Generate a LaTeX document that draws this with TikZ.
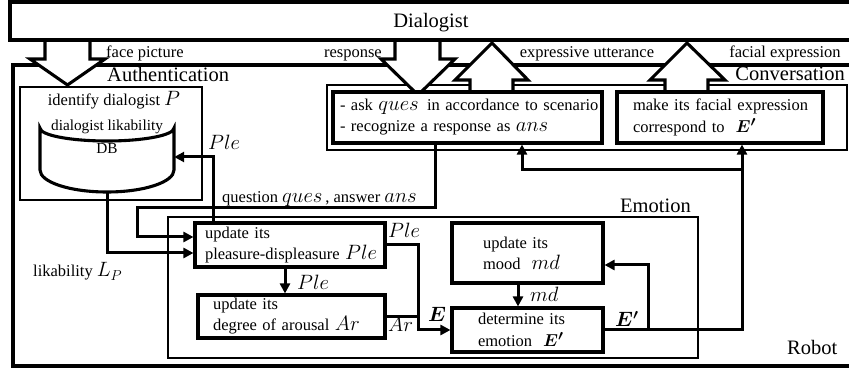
\documentclass[tikz,border=0pt]{standalone}
\usepackage{fontspec}
\setmainfont{Liberation Serif}
\usepackage{bm}
\usetikzlibrary{arrows.meta}
\newcommand\mth[1]{{\fontsize{21}{21}\selectfont$#1$}}
\newcommand\mthb[1]{{\fontsize{19}{19}\selectfont$#1$}}
\begin{document}
\begin{tikzpicture}[x=1pt,y=-1pt,
  thickframe/.style={draw,line width=3.1pt},
  thinframe/.style={draw,line width=1.3pt},
  box/.style={draw,line width=3.1pt,align=left,inner ysep=0pt,fill=white,
    font=\fontsize{16.5}{21}\selectfont},
  conn/.style={line width=3pt,-{Triangle[length=10pt,width=10pt]}},
  plain/.style={line width=3pt},
  lbl/.style={font=\fontsize{16.5}{20}\selectfont,inner sep=0pt},
  big/.style={font=\fontsize{20.5}{24}\selectfont,inner sep=0pt},
  hollow/.style={line width=3.1pt,fill=white,line join=miter}]
\useasboundingbox (0,0) rectangle (849,371);

% robot frame
\draw[thickframe] (13,65) rectangle (856,366);
% thin frames
\draw[thinframe] (20,87) rectangle (202,200);
\draw[thinframe] (327,85) rectangle (847,150);
\draw[thinframe] (168,217) rectangle (698,358);

% hollow arrows
\filldraw[hollow] (45,39) -- (45,59) -- (30,59) -- (67.5,85) -- (105,59) -- (90,59) -- (90,39);
\filldraw[hollow] (395,39) -- (395,59) -- (381,59) -- (418,95) -- (455,59) -- (440,59) -- (440,39);
\filldraw[hollow] (470,92) -- (470,80) -- (455,80) -- (492,43) -- (528,80) -- (513,80) -- (513,92);
\filldraw[hollow] (665,92) -- (665,80) -- (650,80) -- (687,43) -- (725,80) -- (708,80) -- (708,92);

% dialogist frame
\node[big,anchor=base] (dlg) at (431,28) {Dialogist};
\draw[thickframe] (10,2) rectangle (856,40);

% top labels
\node[lbl,anchor=base west] (lfp) at (106,58) {face picture};
\node[lbl,anchor=base east] (lrs) at (382,58) {response};
\node[lbl,anchor=base] (leu) at (587,58) {expressive utterance};
\node[lbl,anchor=base] (lfe) at (785,58) {facial expression};

% group labels
\node[big,anchor=base west] (lauth) at (107,82) {Authentication};
\node[big,anchor=base east] (lconv) at (845,81) {Conversation};
\node[big,anchor=base west] (lemo) at (620,213) {Emotion};
\node[big,anchor=base west] (lrob) at (787,355) {Robot};

% authentication
\node[lbl,anchor=base] (idp) at (114,106) {identify dialogist \mth{P}};
\node[minimum width=134pt,minimum height=77pt,inner sep=0pt] (db) at (107,153.5) {};
\filldraw[line width=3.1pt,fill=white] (174,128)
  arc[start angle=0,end angle=180,x radius=67,y radius=13] -- (40,170)
  arc[start angle=180,end angle=0,x radius=67,y radius=22] -- cycle;
\node[inner sep=0pt,align=center,font=\fontsize{15.3}{23}\selectfont] (dbt) at (107,136.5) {dialogist likability\\DB};

% conversation boxes
\node[box,text width=255pt,inner xsep=7pt,minimum height=51pt] (qa) at (467.5,117.5)
  {\mbox{- ask \mth{ques}\, in accordance to scenario}\\\mbox{- recognize a response as \mth{ans}}};
\node[box,text width=174pt,inner xsep=16pt,minimum height=51pt] (fb) at (720,117.5)
  {\mbox{make its facial expression}\\[1pt]\mbox{correspond to \ \mthb{\bm{E'}}}};

% emotion boxes
\node[box,text width=170pt,inner xsep=10pt,minimum height=44pt] (ple) at (290,245)
  {update its\\\mbox{pleasure-displeasure \mth{Ple}}};
\node[box,text width=157pt,inner xsep=15pt,minimum height=43pt] (ar) at (291.5,316.5)
  {update its\\\mbox{degree of arousal \mth{Ar}}};
\node[box,text width=89pt,inner xsep=31pt,minimum height=60pt] (mood) at (527.5,253)
  {update its\\\mbox{mood \ \mth{md}}};
\node[box,text width=99pt,inner xsep=26pt,minimum height=44pt] (emo) at (527.5,330)
  {determine its\\[1pt]\mbox{emotion \ \mthb{\bm{E'}}}};

% connectors
\coordinate (qc) at (137,208);
\draw[conn] ([xshift=-32.5pt]qa.south) |- (qc) |- ([yshift=8pt]ple.west);
\node[lbl,anchor=base west] (lqa) at (222,203) {question \mth{ques}\,, answer \mth{ans}};

\draw[conn] (db.south) |- ([yshift=-8pt]ple.west);
\node[lbl,anchor=base west] (llp) at (33,277) {likability \mth{L_P}};

\draw[conn] ([xshift=-77pt]ple.north) |- ([yshift=-3.5pt]db.east);
\node[lbl,anchor=base west] (lple1) at (208,150) {\mth{Ple}};

\coordinate (jx) at (418,330);
\draw[conn] (ple.east) -| (jx) -- (emo.west);
\draw[plain] (ar.east) -- (ar.east -| jx);
\node[lbl,anchor=base west] (lple2) at (388,238) {\mth{Ple}};
\node[lbl,anchor=base west] (lar) at (388,332) {\mth{Ar}};
\node[lbl,anchor=base west] (le) at (428,322) {\mth{\bm{E}}};

\draw[conn] ([xshift=-5pt]ple.south) -- ([xshift=-6.5pt]ar.north);
\node[lbl,anchor=base west] (lple3) at (297,290) {\mth{Ple}};

\draw[conn] ([xshift=-9.5pt]mood.south) -- ([xshift=-9.5pt]emo.north);
\node[lbl,anchor=base west] (lmd) at (530,302) {\mth{md}};

\draw[conn] (emo.east) -| ([xshift=22pt]fb.south);
\coordinate (b1) at (648,330);
\draw[conn] (b1) |- ([yshift=-12pt]mood.east);
\coordinate (b2) at (742,170);
\draw[conn] (b2) -| ([xshift=54.5pt]qa.south);
\node[lbl,anchor=base west] (lep) at (615,327) {\mth{\bm{E'}}};
\end{tikzpicture}
\end{document}
